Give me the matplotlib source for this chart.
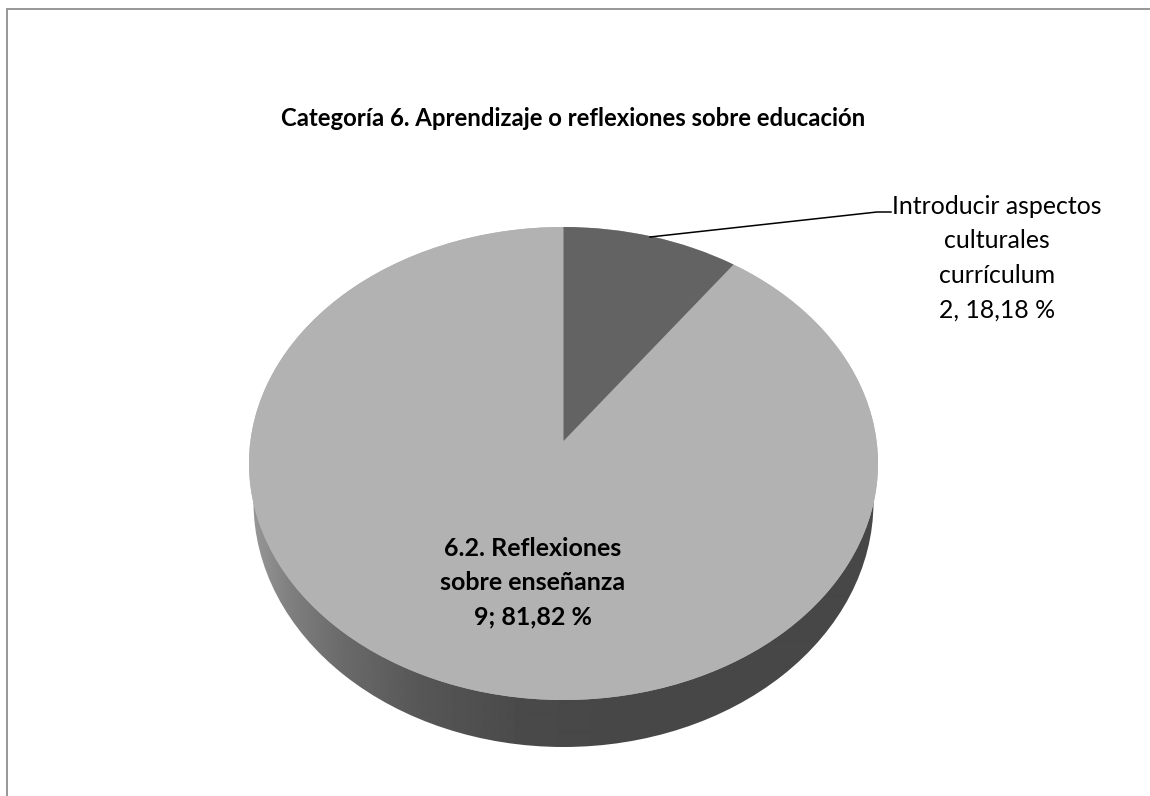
import numpy as np
import matplotlib
matplotlib.use("Agg")
import matplotlib.pyplot as plt
from matplotlib.patches import Ellipse

plt.rcParams['font.family'] = ['Lato', 'DejaVu Sans']

# ── Data ──
title = "Categoría 6. Aprendizaje o reflexiones sobre educación"
categories = ["Introducir aspectos\nculturales\ncurrículum", "6.2. Reflexiones\nsobre enseñanza"]
counts = [2, 9]
percents = ["18,18", "81,82"]
# shares as the slices are actually drawn in the picture (not the labelled counts)
drawn_shares = [1, 10]

W, H = 1150, 796
fig = plt.figure(figsize=(W / 100, H / 100), dpi=100, facecolor='white')

# ── Background axes in pixel coordinates ──
bg = fig.add_axes([0, 0, 1, 1])
bg.set_xlim(0, W)
bg.set_ylim(H, 0)
bg.axis('off')

# chart frame: only top and left edges are visible
bg.plot([6.5, 6.5, W], [H, 8.5, 8.5], color='#8f8f8f', lw=1.3, solid_joinstyle='miter')

# ── Pie side (rim), gradient clipped to the lower disc ──
CX, CY, RX, RY = 563.5, 463.5, 314.5, 236.5
xs = np.arange(240, 890)
shade = np.interp(xs, [250, 290, 340, 420, 520, 600], [0.60, 0.50, 0.42, 0.34, 0.29, 0.28])
im = bg.imshow(shade[np.newaxis, :], extent=(240, 890, 760, 480), cmap='gray',
               vmin=0, vmax=1, aspect='auto', interpolation='bilinear', zorder=1)
lower = Ellipse((CX, 502), 2 * 310, 2 * 245, transform=bg.transData, fc='none', ec='none')
bg.add_patch(lower)
im.set_clip_path(lower)
bg.set_xlim(0, W)
bg.set_ylim(H, 0)

# ── Pie top, axes sized to the ellipse so the unit circle is squashed ──
ax = fig.add_axes([(CX - RX) / W, 1 - (CY + RY) / H, 2 * RX / W, 2 * RY / H])
ax.patch.set_alpha(0)
wedges, _ = ax.pie(drawn_shares, colors=['#636363', '#b2b2b2'], startangle=90,
                   counterclock=False, radius=1, wedgeprops=dict(linewidth=0))
ax.set_aspect('auto')
ax.set_xlim(-1, 1)
ax.set_ylim(-1, 1)

# light disc underneath, the dark slice is moved off the centre below
ax.add_patch(Ellipse((0, 0), 2, 2, fc='#b2b2b2', ec='none', zorder=0))

# perspective: the dark slice's tip sits above the ellipse centre
verts = wedges[0].get_path().vertices
verts[np.hypot(verts[:, 0], verts[:, 1]) < 1e-6, 1] = (CY - 441) / RY
wedges[0].set_zorder(3)

# ── Leader line and labels ──
fg = fig.add_axes([0, 0, 1, 1])
fg.set_xlim(0, W)
fg.set_ylim(H, 0)
fg.axis('off')
fg.plot([650, 877, 891], [237, 212, 212], color='black', lw=1.1)

fg.text(573, 119, title, ha='center', va='center', fontsize=17.2, fontweight='bold', color='black')
fg.text(997, 258, f"{categories[0]}\n{counts[0]}, {percents[0]} %", ha='center', va='center',
        fontsize=17.9, linespacing=1.6, color='black')
fg.text(533, 583, f"{categories[1]}\n{counts[1]}; {percents[1]} %", ha='center', va='center',
        fontsize=18, fontweight='bold', linespacing=1.6, color='black')

fig.savefig("out.png", dpi=100)
